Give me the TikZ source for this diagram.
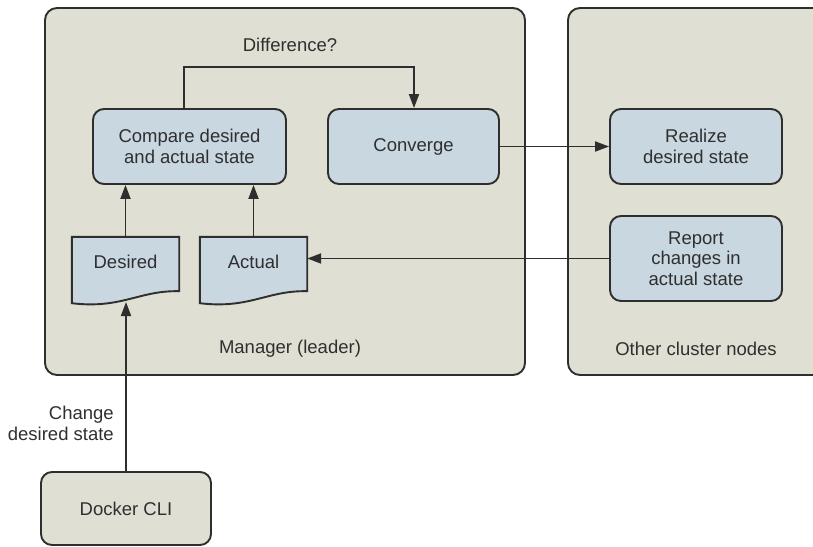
\documentclass[tikz,border=0pt]{standalone}
\usepackage{fontspec}
\setmainfont{Liberation Sans}
\usetikzlibrary{arrows.meta}
\definecolor{panel}{HTML}{E0DFD4}
\definecolor{boxfill}{HTML}{C9D7E0}
\definecolor{ink}{HTML}{2E2E2E}
\definecolor{txt}{HTML}{2F2F2F}
\begin{document}
\begin{tikzpicture}[x=1pt,y=-1pt,
  font=\fontsize{18.5}{21}\selectfont,
  panelbox/.style={draw=ink,fill=panel,line width=1.9pt,rounded corners=12pt},
  procbox/.style={draw=ink,fill=boxfill,line width=1.9pt,rounded corners=11pt,
    align=center,text=txt,inner sep=0pt,minimum height=75pt},
  clibox/.style={draw=ink,fill=panel,line width=1.9pt,rounded corners=11pt,
    text=txt,inner sep=0pt,minimum width=170pt,minimum height=73pt},
  docarea/.style={inner sep=0pt,minimum width=107pt,minimum height=66pt},
  docshape/.style={draw=ink,fill=boxfill,line width=1.9pt},
  lbl/.style={text=txt,inner sep=0pt,align=center},
  arrow/.style={draw=ink,line width=1.9pt,-{Triangle[length=14pt,width=10pt]}}]
\useasboundingbox (0,0) rectangle (813,546);

% cluster panels
\begin{scope}
  \clip (0,0) rectangle (813,546);
  \draw[panelbox] (45,8) rectangle (525,375);
  \draw[panelbox] (568,8) rectangle (840,375);
\end{scope}
\node[lbl] (mgrlabel) at (290,349) {Manager (leader)};
\node[lbl] (otherlabel) at (696,349) {Other cluster nodes};

% process boxes
\node[procbox,minimum width=193pt] (compare) at (189.5,146.5) {Compare desired\\and actual state};
\node[procbox,minimum width=171pt] (converge) at (413.5,146.5) {Converge};
\node[procbox,minimum width=172pt] (realize) at (696,146.5) {Realize\\desired state};
\node[procbox,minimum width=172pt,minimum height=85pt,font=\fontsize{18.5}{20.5}\selectfont] (report) at (696,258.5) {Report\\changes in\\actual state};

% state documents
\node[docarea] (desired) at (125.5,270) {};
\node[docarea] (actual) at (253.5,270) {};
\foreach \d in {desired,actual}{
  \draw[docshape] (\d.north west) -- (\d.north east)
    -- ([yshift=12pt]\d.south east)
    .. controls ([xshift=-40pt,yshift=13pt]\d.south east)
    and ([xshift=50pt,yshift=-6pt]\d.south west) .. (\d.south west) -- cycle;
}
\node[lbl] (desiredtxt) at (125.5,262) {Desired};
\node[lbl] (actualtxt) at (253.5,262) {Actual};

% client
\node[clibox] (docker) at (126,508.5) {Docker CLI};

% connectors
\draw[arrow] (desired.north) -- (desired.north |- compare.south);
\draw[arrow] (actual.north) -- (actual.north |- compare.south);
\coordinate (dl) at (184,67);
\coordinate (dr) at (414,67);
\draw[arrow] (compare.north -| dl) -- (dl) -- (dr) -- (converge.north -| dr);
\node[lbl] (difflabel) at (290,45) {Difference?};
\draw[arrow] (converge.east) -- (realize.west);
\draw[arrow] (report.west) -- (report.west -| actual.east);
\coordinate (dtip) at (126,302);
\draw[arrow] (docker.north) -- (dtip);
\node[lbl,align=right,anchor=east] (changelabel) at (114,423) {Change\\desired state};
\end{tikzpicture}
\end{document}
